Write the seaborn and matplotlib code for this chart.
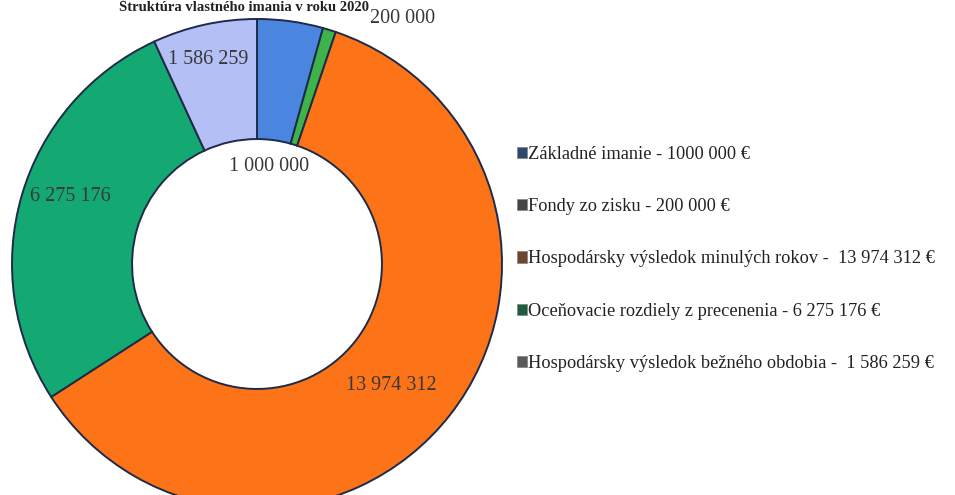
import numpy as np
import matplotlib
matplotlib.use('Agg')
import matplotlib.pyplot as plt
from matplotlib.patches import Patch
import seaborn as sns

categories = ['Základné imanie', 'Fondy zo zisku', 'Hospodársky výsledok minulých rokov',
              'Oceňovacie rozdiely z precenenia', 'Hospodársky výsledok bežného obdobia']
values = [1000000, 200000, 13974312, 6275176, 1586259]
value_labels = ['1 000 000', '200 000', '13 974 312', '6 275 176', '1 586 259']
legend_labels = ['Základné imanie - 1000 000 €',
                 'Fondy zo zisku - 200 000 €',
                 'Hospodársky výsledok minulých rokov -  13 974 312 €',
                 'Oceňovacie rozdiely z precenenia - 6 275 176 €',
                 'Hospodársky výsledok bežného obdobia -  1 586 259 €']
title = 'Štruktúra vlastného imania v roku 2020'

wedge_colors = ['#4a86e0', '#3db34a', '#fd7418', '#14a872', '#b4bff5']
legend_colors = ['#2b4a6e', '#444444', '#6e4630', '#1b5e3c', '#5a5a5a']

sns.set_theme(style='white')
plt.rcParams['font.family'] = ['Liberation Serif', 'DejaVu Serif']

fig = plt.figure(figsize=(9.55, 4.95), dpi=100)
# pie centre ~ (257, 264) px, radius ~245 px
ax = fig.add_axes([12 / 955, (495 - 264 - 245) / 495, 490 / 955, 490 / 495])

wedges, _ = ax.pie(values, colors=wedge_colors, startangle=90, counterclock=False,
                   radius=1.0, wedgeprops=dict(width=0.49, edgecolor='#1f2a48', linewidth=1.4))
ax.set_xlim(-1, 1)
ax.set_ylim(-1, 1)
ax.set_aspect('equal')
ax.axis('off')

# label placement: radius and angle shift per wedge
label_r = [0.40, 1.165, 0.74, 0.81, 0.86]
label_shift = [1, -13.4, -4.2, -3.6, 1]
for w, txt, r, sh in zip(wedges, value_labels, label_r, label_shift):
    ang = np.deg2rad((w.theta1 + w.theta2) / 2 + sh)
    ax.text(r * np.cos(ang), r * np.sin(ang), txt, ha='center', va='center',
            fontsize=14.5, color='#383838', clip_on=False)

fig.text(0.255, 0.998, title, ha='center', va='top', fontsize=10.5,
         fontweight='bold', color='#222222')

handles = [Patch(facecolor=c, edgecolor='#888888', linewidth=0.6) for c in legend_colors]
fig.legend(handles, legend_labels, loc='upper left', bbox_to_anchor=(0.537, 0.713),
           frameon=False, fontsize=13.2, handlelength=0.55, handleheight=0.55,
           handletextpad=0.1, labelspacing=1.93, labelcolor='#222222',
           borderaxespad=0, borderpad=0.2)

fig.savefig('out.png', dpi=100)
